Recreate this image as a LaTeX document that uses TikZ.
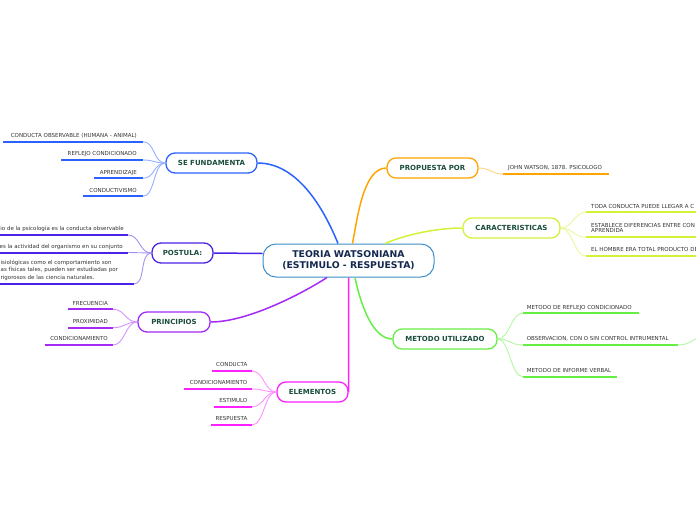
\documentclass[tikz,border=0pt]{standalone}
\usepackage{fontspec}
\setmainfont{DejaVu Sans}
\usetikzlibrary{calc}
\definecolor{cblue}{HTML}{2A62FF}
\definecolor{corange}{HTML}{FFA500}
\definecolor{cyellow}{HTML}{D2F23A}
\definecolor{cindigo}{HTML}{4B22E6}
\definecolor{cpurple}{HTML}{A42AF5}
\definecolor{cmagenta}{HTML}{FF22FF}
\definecolor{cgreen}{HTML}{66EE44}
\definecolor{ccentral}{HTML}{3D8EC9}
\definecolor{topictext}{HTML}{1B4D3E}
\definecolor{centraltext}{HTML}{14284F}
\definecolor{subtext}{HTML}{333333}
\tikzset{
  topic/.style={draw=#1, line width=1.3pt, fill=white, rounded corners=9pt,
    font=\fontsize{7}{8}\selectfont\bfseries, text=topictext,
    minimum height=20pt, inner sep=0pt},
  centralbox/.style={draw=ccentral, line width=1pt, fill=white, rounded corners=13pt,
    font=\fontsize{9.3}{11}\selectfont\bfseries, text=centraltext, align=center,
    minimum width=171pt, minimum height=33pt, inner sep=0pt},
  subtxt/.style={font=\fontsize{5.5}{6.5}\selectfont, text=subtext, inner sep=0pt},
  uline/.style={draw=#1, line width=2pt},
  mainlink/.style={draw=#1, line width=1.5pt},
  sublink/.style={draw=#1!50!white, line width=0.9pt},
}
% left child: name, x0, x1, y, colour, text  (text ends #7 before x1)
\newcommand\SubL[7]{%
  \coordinate (#1s) at (#2,#4);
  \coordinate (#1e) at (#3,#4);
  \node[subtxt, anchor=base east] (#1) at ($(#1e)+(-#7,-4.3)$) {#6};
  \draw[uline=#5] (#1s) -- (#1e);
}
% right child: name, x0, x1, y, colour, text (text starts #7 after x0)
\newcommand\SubR[7]{%
  \coordinate (#1s) at (#2,#4);
  \coordinate (#1e) at (#3,#4);
  \node[subtxt, anchor=base west] (#1) at ($(#1s)+(#7,-4.3)$) {#6};
  \draw[uline=#5] (#1s) -- (#1e);
}
\begin{document}
\begin{tikzpicture}[x=1pt,y=-1pt]
\useasboundingbox (0,0) rectangle (696,520);
\clip (0,0) rectangle (696,520);

% central and topics
\node[centralbox] (central) at (348.5,260.5) {TEORIA WATSONIANA\\(ESTIMULO - RESPUESTA)};
\node[topic=cblue, minimum width=91pt] (sef) at (211.5,163) {SE FUNDAMENTA};
\node[topic=corange, minimum width=91pt] (prop) at (432.5,168) {PROPUESTA POR};
\node[topic=cyellow, minimum width=97pt] (carac) at (511.5,228) {CARACTERISTICAS};
\node[topic=cindigo, minimum width=61pt] (post) at (182.5,253) {POSTULA:};
\node[topic=cpurple, minimum width=72pt] (princ) at (174,322) {PRINCIPIOS};
\node[topic=cmagenta, minimum width=71pt] (elem) at (312.5,392) {ELEMENTOS};
\node[topic=cgreen, minimum width=104pt] (metodo) at (445,339) {METODO UTILIZADO};

% main links
\draw[mainlink=cblue] ($(central.north)+(-10.5,0)$) .. controls (326,214) and (300,163) .. (sef.east);
\draw[mainlink=corange] ($(central.north)+(4,0)$) .. controls (358,214) and (364,168) .. (prop.west);
\draw[mainlink=cyellow] ($(central.north)+(36.5,0)$) .. controls (410,233) and (440,228) .. (carac.west);
\draw[mainlink=cindigo] ($(central.west)+(0,-7)$) -- (post.east);
\draw[mainlink=cpurple] ($(central.south)+(-21.5,0)$) .. controls (308,290) and (250,322) .. (princ.east);
\draw[mainlink=cmagenta] (central.south) .. controls (348.5,360) and (348.5,380) .. (elem.east);
\draw[mainlink=cgreen] ($(central.south)+(6.5,0)$) .. controls (360,302) and (372,339) .. (metodo.west);

% SE FUNDAMENTA
\SubL{fa}{3}{143}{141.7}{cblue}{CONDUCTA OBSERVABLE (HUMANA - ANIMAL)}{6}
\SubL{fb}{61}{143}{160}{cblue}{REFLEJO CONDICIONADO}{6}
\SubL{fc}{94}{143}{178.3}{cblue}{APRENDIZAJE}{6}
\SubL{fd}{83}{143}{196.3}{cblue}{CONDUCTIVISMO}{6}
\foreach \n in {fa,fb,fc,fd}
  \draw[sublink=cblue] (sef.west) .. controls +(-12,0) and +(12,0) .. (\n e);

% POSTULA
\SubL{pa}{0}{128}{235}{cindigo}{io de la psicología es la conducta observable}{4}
\SubL{pb}{0}{128}{252.5}{cindigo}{es la actividad del organismo en su conjunto}{5}
\coordinate (pcs) at (0,284);
\coordinate (pce) at (134,284);
\node[subtxt, font=\fontsize{5.5}{7.5}\selectfont, align=left, anchor=north west] (pc) at (0.5,259.8)
  {isiológicas como el comportamiento son\\as físicas tales, pueden ser estudiadas por\\rigorosos de las ciencia naturales.};
\draw[uline=cindigo] (pcs) -- (pce);
\foreach \n in {pa,pb,pc}
  \draw[sublink=cindigo] (post.west) .. controls +(-12,0) and +(12,0) .. (\n e);

% PRINCIPIOS
\SubL{ra}{68}{113}{309.3}{cpurple}{FRECUENCIA}{5}
\SubL{rb}{68}{113}{327.7}{cpurple}{PROXIMIDAD}{5}
\SubL{rc}{45}{113}{345}{cpurple}{CONDICIONAMIENTO}{5}
\foreach \n in {ra,rb,rc}
  \draw[sublink=cpurple] (princ.west) .. controls +(-12,0) and +(12,0) .. (\n e);

% ELEMENTOS
\SubL{ea}{212}{252}{371}{cmagenta}{CONDUCTA}{4.5}
\SubL{eb}{184}{252}{389}{cmagenta}{CONDICIONAMIENTO}{4.5}
\SubL{ec}{214}{252}{406.7}{cmagenta}{ESTIMULO}{4.5}
\SubL{ed}{211}{252}{425}{cmagenta}{RESPUESTA}{4.5}
\foreach \n in {ea,eb,ec,ed}
  \draw[sublink=cmagenta] (elem.west) .. controls +(-12,0) and +(12,0) .. (\n e);

% PROPUESTA POR
\SubR{ja}{503}{609}{174}{corange}{JOHN WATSON, 1878. PSICOLOGO}{5}
\draw[sublink=corange] (prop.east) .. controls +(12,0) and +(-12,0) .. (jas);

% CARACTERISTICAS
\SubR{ka}{586}{696}{212.3}{cyellow}{TODA CONDUCTA PUEDE LLEGAR A C}{5}
\coordinate (kbs) at (586,237.3);
\coordinate (kbe) at (696,237.3);
\node[subtxt, font=\fontsize{5.5}{5.8}\selectfont, align=left, anchor=south west] (kb) at ($(kbs)+(5,-4.3)$)
  {ESTABLECE DIFERENCIAS ENTRE CON\\APRENDIDA};
\draw[uline=cyellow] (kbs) -- (kbe);
\SubR{kc}{586}{696}{256}{cyellow}{EL HOMBRE ERA TOTAL PRODUCTO DE}{5}
\foreach \n in {ka,kb,kc}
  \draw[sublink=cyellow] (carac.east) .. controls +(12,0) and +(-12,0) .. (\n s);

% METODO UTILIZADO
\SubR{ma}{522.7}{639}{313.3}{cgreen}{METODO DE REFLEJO CONDICIONADO}{4}
\SubR{mb}{522.7}{677.7}{345}{cgreen}{OBSERVACION, CON O SIN CONTROL INTRUMENTAL}{4}
\SubR{mc}{522.7}{616.7}{376.7}{cgreen}{METODO DE INFORME VERBAL}{4}
\foreach \n in {ma,mb,mc}
  \draw[sublink=cgreen] (metodo.east) .. controls +(12,0) and +(-12,0) .. (\n s);
\coordinate (moff) at (702,335);
\draw[sublink=cgreen] (mbe) .. controls (688,345) and (692,341) .. (moff);
\end{tikzpicture}
\end{document}
